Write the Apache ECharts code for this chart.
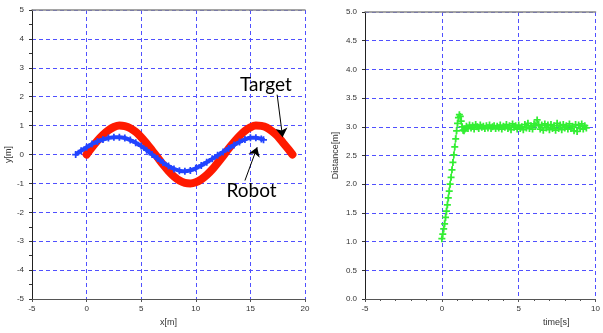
<!DOCTYPE html>
<html><head><meta charset="utf-8">
<script src="https://cdn.jsdelivr.net/npm/echarts@6/dist/echarts.min.js"></script>
<style>html,body{margin:0;padding:0;background:#fff}#c{width:603px;height:333px}</style>
</head><body><div id="c"></div>
<script>
// ---- Left plot: trajectories ----
const targetX = [0,0.5,1,1.5,2,2.5,3,3.5,4,4.5,5,5.5,6,6.5,7,7.5,8,8.5,9,9.5,10,10.5,11,11.5,12,12.5,13,13.5,14,14.5,15,15.5,16,16.5,17,17.5,18,18.5,18.85];
const targetY = [0,0.25,0.48,0.68,0.84,0.95,1.0,0.98,0.91,0.78,0.6,0.38,0.14,-0.1,-0.35,-0.57,-0.76,-0.9,-0.98,-1.0,-0.96,-0.86,-0.71,-0.52,-0.29,-0.05,0.2,0.43,0.64,0.82,0.94,1.0,0.99,0.93,0.8,0.63,0.4,0.17,0.0];
const robotX = [-1,-0.5,0,0.5,1,1.5,2,2.5,3,3.5,4,4.5,5,5.5,6,6.5,7,7.5,8,8.5,9,9.5,10,10.5,11,11.5,12,12.5,13,13.5,14,14.5,15,15.5,16,16.2];
const robotY = [0,0.13,0.25,0.36,0.45,0.52,0.57,0.6,0.6,0.57,0.5,0.41,0.29,0.15,0.0,-0.14,-0.28,-0.4,-0.5,-0.56,-0.58,-0.55,-0.48,-0.38,-0.27,-0.15,-0.03,0.09,0.21,0.33,0.43,0.52,0.58,0.58,0.54,0.51];
const xyTicks = {min:-5, max:5, interval:1};
const xTicks = {min:-5, max:20, interval:5};
// annotations (data coordinates)
const annotNames = ['Target','Robot'];
const annotLabel = [[16.42,2.4],[15.11,-1.25]];
const annotFrom = [[17.45,2.07],[14.5,-0.9]];
const annotTo = [[17.95,0.6],[15.62,0.25]];

// ---- Right plot: distance ----
const timeS = [0,0.06,0.12,0.18,0.24,0.3,0.36,0.42,0.48,0.54,0.6,0.66,0.72,0.78,0.84,0.9,0.96,1.02,1.08,1.14,1.2,1.26,1.32,1.38,1.44,1.5,
 1.6,1.7,1.8,1.9,2.0,2.1,2.2,2.3,2.4,2.5,2.6,2.7,2.8,2.9,3.0,3.1,3.2,3.3,3.4,3.5,3.6,3.7,3.8,3.9,4.0,4.1,4.2,4.3,4.4,4.5,4.6,4.7,4.8,4.9,
 5.0,5.1,5.2,5.3,5.4,5.5,5.6,5.7,5.8,5.9,6.0,6.1,6.2,6.3,6.4,6.5,6.6,6.7,6.8,6.9,7.0,7.1,7.2,7.3,7.4,7.5,7.6,7.7,7.8,7.9,
 8.0,8.1,8.2,8.3,8.4,8.5,8.6,8.7,8.8,8.9,9.0,9.1,9.2,9.3,9.4];
const distance = [1.05,1.13,1.22,1.31,1.42,1.53,1.64,1.76,1.88,2.0,2.12,2.25,2.38,2.51,2.65,2.79,2.93,3.06,3.16,3.21,3.18,3.1,3.0,2.94,2.93,2.96,
 3.01,2.97,3.03,2.98,3.02,2.96,3.04,3.0,2.97,3.03,2.99,3.01,2.97,3.02,2.98,3.03,2.97,3.0,3.02,2.97,3.01,2.98,3.03,2.96,3.01,2.99,3.04,2.97,3.02,2.95,3.05,2.99,3.02,2.96,
 3.03,2.97,3.0,2.95,3.04,2.98,3.06,2.97,3.02,2.96,3.05,3.02,3.12,3.04,2.96,3.03,2.94,3.05,2.98,3.03,2.95,3.04,2.97,3.02,2.94,3.06,2.97,3.03,2.95,3.04,
 2.98,3.02,2.96,3.05,2.97,3.01,2.93,3.04,2.92,3.03,2.97,3.05,2.96,3.02,2.98];
const timeTicks = {min:-5, max:10, interval:5};
const distTicks = {min:0, max:5, interval:0.5};

const zip = (a,b)=>a.map((v,i)=>[v,b[i]]);
const plus = 'path://M3,0H5V3H8V5H5V8H3V5H0V3H3Z';
const FONT = 'Liberation Sans';
const grid = {type:[4,3], color:'#5050ff', width:1};
const lbl = {fontSize:8, color:'#333', fontFamily:FONT};
const nameStyle = {fontSize:9, color:'#333', fontFamily:FONT};

function bottomAxis(gi, t, name, minor, nameStyleExtra){
  return {type:'value', gridIndex:gi, position:'bottom', min:t.min, max:t.max, interval:t.interval,
    axisLine:{show:true, onZero:false, lineStyle:{color:'#555', width:1}},
    axisTick:{show:true, length:3, lineStyle:{color:'#555'}},
    minorTick:{show:minor, splitNumber:5, length:2, lineStyle:{color:'#555'}},
    axisLabel:Object.assign({margin:6}, lbl),
    splitLine:{show:true, lineStyle:grid},
    name:name, nameLocation:'middle', nameGap:19, nameTextStyle:Object.assign({}, nameStyle, nameStyleExtra||{})};
}
function topAxis(gi, t){
  return {type:'value', gridIndex:gi, position:'top', min:t.min, max:t.max, interval:t.interval,
    axisLine:{show:true, onZero:false, lineStyle:{color:'#888', width:1.5}},
    axisTick:{show:false}, axisLabel:{show:false}, splitLine:{show:false}};
}

const chart = echarts.init(document.getElementById('c'), null, {renderer:'canvas'});
chart.setOption({
  animation:false,
  backgroundColor:'#fff',
  grid:[
    {left:32, top:10, width:273, height:289},
    {left:365, top:12, width:231, height:287}
  ],
  xAxis:[
    bottomAxis(0, xTicks, 'x[m]', false),
    topAxis(0, xTicks),
    bottomAxis(1, timeTicks, 'time[s]', true, {padding:[0,0,0,152]}),
    topAxis(1, timeTicks)
  ],
  yAxis:[
    {type:'value', gridIndex:0, min:xyTicks.min, max:xyTicks.max, interval:xyTicks.interval,
     axisLine:{show:true, onZero:false, lineStyle:{color:'#222'}},
     axisTick:{show:true, length:3, lineStyle:{color:'#333'}},
     minorTick:{show:true, splitNumber:2, length:3, lineStyle:{color:'#333'}},
     axisLabel:Object.assign({margin:8}, lbl),
     splitLine:{show:true, lineStyle:grid},
     name:'y[m]', nameLocation:'middle', nameGap:17, nameTextStyle:nameStyle},
    {type:'value', gridIndex:1, min:distTicks.min, max:distTicks.max, interval:distTicks.interval,
     axisLine:{show:true, onZero:false, lineStyle:{color:'#222'}},
     axisTick:{show:true, length:3, lineStyle:{color:'#333'}},
     axisLabel:Object.assign({margin:8, formatter:v=>v.toFixed(1)}, lbl),
     splitLine:{show:true, lineStyle:grid},
     name:'Distance[m]', nameLocation:'middle', nameGap:25, nameTextStyle:nameStyle}
  ],
  series:[
    {name:'Target', type:'line', xAxisIndex:0, yAxisIndex:0, data:zip(targetX,targetY),
     showSymbol:false, smooth:0.3, z:2,
     lineStyle:{color:'#ff1a00', width:8, cap:'round', join:'round'}},
    {name:'Robot', type:'line', xAxisIndex:0, yAxisIndex:0, data:zip(robotX,robotY),
     symbol:plus, symbolSize:7, showSymbol:true, smooth:0.3, z:3,
     itemStyle:{color:'#2244ff'}, lineStyle:{color:'#2244ff', width:4}},
    {name:'annot', type:'scatter', xAxisIndex:0, yAxisIndex:0, data:[], z:5,
     markLine:{silent:true, symbol:['none','arrow'], symbolSize:9, label:{show:false},
       lineStyle:{color:'#000', width:1, type:'solid'},
       data:annotFrom.map((f,i)=>[{coord:f},{coord:annotTo[i]}])},
     markPoint:{silent:true, symbol:'circle', symbolSize:0,
       label:{show:true, position:'inside', formatter:'{b}', fontSize:19, color:'#000', fontFamily:'Lato'},
       data:annotLabel.map((c,i)=>({name:annotNames[i], coord:c}))}},
    {name:'Distance', type:'line', xAxisIndex:2, yAxisIndex:1, data:zip(timeS,distance),
     symbol:plus, symbolSize:7, showSymbol:true, z:3,
     itemStyle:{color:'#33ee33'}, lineStyle:{color:'#33ee33', width:1}}
  ]
});
</script></body></html>
